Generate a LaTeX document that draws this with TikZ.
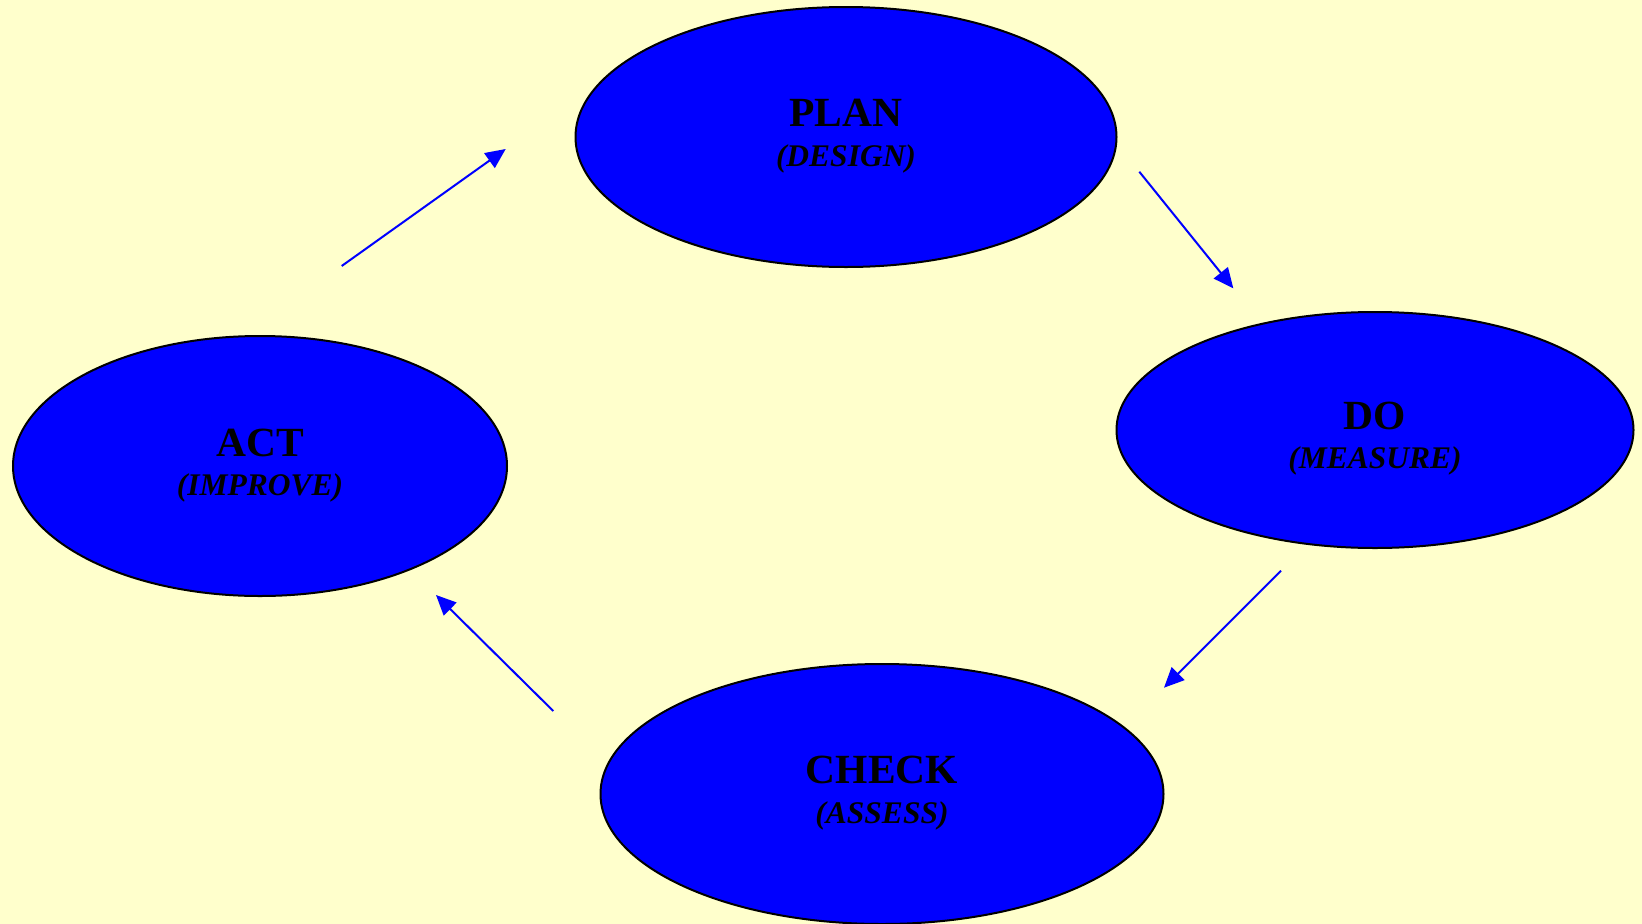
\documentclass[tikz,border=0pt]{standalone}
\usepackage{fontspec}
\setmainfont{Liberation Serif}
\usetikzlibrary{shapes.geometric,arrows.meta}
\definecolor{bgc}{HTML}{FFFFCC}
\definecolor{ellc}{HTML}{0000FF}
\tikzset{
  phase/.style={ellipse, draw=black, line width=2pt, fill=ellc, inner sep=0pt},
  ttl/.style={anchor=base, inner sep=0pt, font=\fontsize{41.5}{41.5}\selectfont\bfseries},
  sub/.style={anchor=base, inner sep=0pt, font=\fontsize{31.5}{31.5}\selectfont\bfseries\itshape},
  flow/.style={draw=ellc, line width=2pt, -{Triangle[length=20pt,width=18pt]}}
}
\begin{document}
\begin{tikzpicture}[x=1pt,y=-1pt]
\fill[bgc] (0,0) rectangle (1642,924);
\useasboundingbox (0,0) rectangle (1642,924);
\node[phase, minimum width=541pt, minimum height=260pt] (plan) at (846,137) {};
\node[phase, minimum width=517pt, minimum height=236pt] (do) at (1375,430) {};
\node[phase, minimum width=494pt, minimum height=260pt] (act) at (260,466) {};
\node[phase, minimum width=563pt, minimum height=260pt] (check) at (882,794) {};
\node[ttl] (planT) at (846,126.7) {PLAN};
\node[sub] (planS) at (846,166) {(DESIGN)};
\node[ttl] (doT) at (1375,429.7) {DO};
\node[sub] (doS) at (1375,468.6) {(MEASURE)};
\node[ttl] (actT) at (260,456) {ACT};
\node[sub] (actS) at (260,495) {(IMPROVE)};
\node[ttl] (checkT) at (882,783.7) {CHECK};
\node[sub] (checkS) at (882,823.6) {(ASSESS)};
\coordinate (a1) at (341.7,266);
\coordinate (a2) at (505.7,149);
\coordinate (b1) at (1139.3,171.7);
\coordinate (b2) at (1233.3,288.3);
\coordinate (c1) at (1281,570.7);
\coordinate (c2) at (1164,687.7);
\coordinate (d1) at (553.3,711);
\coordinate (d2) at (436,595);
\draw[flow] (a1) -- (a2);
\draw[flow] (b1) -- (b2);
\draw[flow] (c1) -- (c2);
\draw[flow] (d1) -- (d2);
\end{tikzpicture}
\end{document}
